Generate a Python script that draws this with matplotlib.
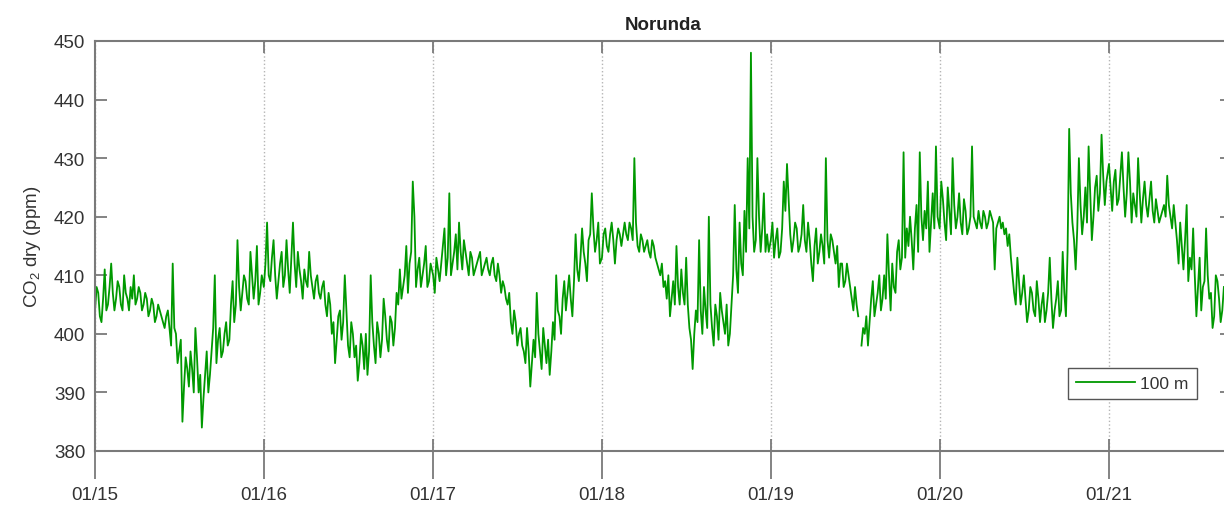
import numpy as np
import pandas as pd
import matplotlib
matplotlib.use("Agg")
import matplotlib.pyplot as plt
import matplotlib.dates as mdates

plt.rcParams['font.family'] = ['Liberation Sans', 'DejaVu Sans']
plt.rcParams['mathtext.fontset'] = 'custom'
plt.rcParams['mathtext.rm'] = 'Liberation Sans'
plt.rcParams['mathtext.it'] = 'Liberation Sans:italic'

nan = np.nan

# CO2 (ppm), one weekly list per year starting 1 Jan,
# plus the readings half a week later (mid_*)
co2_2015 = [404, 407, 402, 411, 405, 412, 404, 409, 405, 410, 406, 408, 410,
            406, 407, 405, 406, 404, 405, 403, 404, 402, 403, 401, 412, 400,
            397, 385, 396, 391, 394, 401, 390, 384, 393, 390, 397, 410, 399,
            396, 400, 398, 405, 402, 416, 404, 410, 406, 414, 406, 415, 407]
mid_2015 = [408, 403, 406, 404, 408, 407, 406, 408, 404, 407, 404, 406, 405,
            408, 404, 407, 403, 406, 402, 405, 403, 401, 404, 398, 401, 395,
            399, 391, 394, 397, 390, 396, 393, 389, 397, 393, 401, 395, 401,
            397, 402, 399, 409, 405, 408, 407, 409, 405, 410, 409, 405, 410]

co2_2016 = [408, 419, 409, 416, 406, 412, 408, 416, 407, 419, 408, 411, 406,
            409, 414, 408, 409, 407, 408, 405, 407, 400, 395, 403, 399, 410,
            398, 402, 396, 392, 400, 394, 393, 410, 398, 402, 396, 406, 399,
            403, 398, 407, 411, 408, 415, 412, 426, 408, 413, 410, 415, 409]
mid_2016 = [412, 410, 413, 410, 409, 414, 410, 411, 413, 412, 414, 409, 411,
            408, 410, 406, 410, 406, 409, 403, 405, 402, 399, 404, 402, 404,
            396, 400, 398, 395, 398, 400, 397, 402, 395, 400, 399, 403, 397,
            402, 401, 405, 406, 410, 407, 414, 420, 411, 408, 412, 408, 412]

co2_2017 = [410, 413, 409, 415, 410, 424, 412, 417, 419, 411, 414, 410, 413,
            411, 413, 410, 412, 411, 412, 410, 412, 407, 408, 405, 402, 404,
            398, 401, 397, 401, 391, 399, 407, 397, 401, 395, 393, 402, 410,
            403, 406, 404, 410, 403, 417, 409, 418, 412, 416, 424, 414, 419]
mid_2017 = [407, 411, 412, 418, 413, 410, 414, 411, 414, 416, 412, 414, 410,
            412, 414, 411, 413, 410, 413, 409, 410, 409, 406, 407, 400, 402,
            400, 398, 395, 397, 395, 396, 400, 394, 398, 399, 397, 399, 404,
            400, 409, 407, 406, 409, 411, 413, 414, 409, 417, 418, 416, 412]

co2_2018 = [413, 418, 414, 419, 412, 418, 415, 419, 416, 418, 430, 415, 417,
            414, 416, 413, 415, 412, 410, 408, 406, 403, 409, 415, 405, 407,
            413, 401, 394, 404, 416, 400, 404, 420, 401, 405, 399, 404, 400,
            398, 405, 422, 407, 412, 421, 430, 448, 414, 430, 414, 424, 417]
mid_2018 = [417, 415, 417, 416, 416, 417, 417, 417, 419, 416, 419, 414, 416,
            415, 414, 416, 413, 411, 412, 409, 410, 406, 405, 408, 411, 405,
            405, 399, 400, 402, 404, 408, 401, 405, 398, 403, 407, 402, 405,
            400, 410, 411, 419, 410, 414, 418, 420, 416, 420, 418, 414, 414]

co2_2019 = [416, 413, 418, 414, 426, 429, 417, 416, 418, 415, 422, 414, 416,
            409, 418, 414, 415, 430, 413, 416, 412, 408, 412, 409, 410, 406,
            408, 403, 398, 400, 398, 406, 403, 407, 404, 410, 417, 404, 408,
            414, 411, 431, 418, 420, 411, 422, 431, 416, 418, 414, 424, 432]
mid_2019 = [419, 416, 413, 418, 421, 423, 414, 419, 414, 417, 416, 419, 412,
            415, 412, 417, 412, 416, 417, 414, 415, 412, 408, 412, 408, 404,
            405, nan, 401, 403, 402, 409, 405, 410, 406, 406, 410, 412, 407,
            416, 413, 413, 415, 416, 418, 414, 420, 421, 426, 419, 418, 420]

co2_2020 = [418, 423, 416, 421, 430, 418, 424, 417, 421, 418, 432, 419, 421,
            418, 420, 419, 420, 411, 419, 418, 417, 415, 413, 407, 413, 405,
            410, 402, 408, 404, 409, 402, 407, 404, 413, 401, 406, 403, 414,
            403, 435, 419, 411, 430, 417, 425, 432, 416, 425, 421, 434, 422]
mid_2020 = [426, 419, 425, 417, 422, 420, 419, 423, 417, 420, 420, 418, 419,
            421, 418, 421, 419, 418, 420, 419, 418, 417, 410, 405, 409, 407,
            406, 404, 407, 403, 406, 405, 402, 407, 406, 404, 409, 404, 407,
            414, 424, 416, 418, 422, 420, 419, 424, 420, 427, 424, 427, 426]

co2_2021 = [429, 421, 428, 423, 431, 420, 431, 419, 422, 430, 419, 426, 420,
            426, 419, 421, 420, 422, 427, 420, 422, 416, 419, 411, 422, 413,
            418, 403, 413, 408, 418, 406, 401, 410, 406, 404]
mid_2021 = [425, 426, 422, 427, 425, 424, 426, 424, 420, 424, 423, 422, 423,
            421, 423, 419, 421, 420, 422, 418, 419, 412, 415, 416, 409, 411,
            410, 408, 404, 409, 410, 407, 403, 409, 402, 408]

years = [2015, 2016, 2017, 2018, 2019, 2020, 2021]
weekly = [co2_2015, co2_2016, co2_2017, co2_2018, co2_2019, co2_2020, co2_2021]
midweek = [mid_2015, mid_2016, mid_2017, mid_2018, mid_2019, mid_2020, mid_2021]

dates = []
values = []
for yr, w, m in zip(years, weekly, midweek):
    v = np.empty(2 * len(w))
    v[0::2] = w
    v[1::2] = m
    dates.extend(pd.date_range(f"{yr}-01-01", periods=len(v), freq="84h"))
    values.extend(v)
dates = pd.DatetimeIndex(dates)
values = np.array(values, dtype=float)

fig = plt.figure(figsize=(12.24, 5.06), dpi=100)
ax = fig.add_axes([95 / 1224, 54 / 506, 1137 / 1224, 410 / 506])

ax.plot(dates, values, color='#009900', lw=1.3, label='100 m')

ax.set_xlim(pd.Timestamp('2015-01-01'), pd.Timestamp('2021-09-24'))
ax.set_ylim(380, 450)
ax.set_yticks(np.arange(380, 451, 10))

ticks = [pd.Timestamp(f"{y}-01-01") for y in years]
ax.set_xticks(ticks)
ax.set_xticks(ticks, minor=True)
ax.xaxis.remove_overlapping_locs = False
ax.xaxis.set_major_formatter(mdates.DateFormatter('%m/%y'))

tick_col = '#333333'
spine_col = '#7a7a7a'
ax.tick_params(axis='x', which='major', direction='out', length=20, width=1.3,
               color=spine_col, labelsize=13.5, labelcolor=tick_col, pad=5)
ax.tick_params(axis='x', which='minor', direction='in', length=8.5, width=1.3,
               color=spine_col, top=True, bottom=True)
ax.tick_params(axis='y', which='major', direction='in', length=8.5, width=1.3,
               color=spine_col, labelsize=13.5, labelcolor=tick_col, pad=7,
               right=True)

for s in ax.spines.values():
    s.set_color(spine_col)
    s.set_linewidth(1.5)

ax.grid(axis='x', which='major', linestyle=':', color='#b5b5b5', lw=1.0)

ax.set_ylabel('CO$_2$ dry (ppm)', fontsize=13.5, color=tick_col, labelpad=8)
ax.set_title('Norunda', fontsize=13.5, fontweight='bold', color='#222222', pad=9)

leg = ax.legend(loc='lower left', bbox_to_anchor=(0.856, 0.127), borderaxespad=0,
                fontsize=12.5, handlelength=3.4, handletextpad=0.3,
                fancybox=False, framealpha=1, borderpad=0.45)
leg.get_frame().set_edgecolor('#555555')
leg.get_frame().set_linewidth(1.0)
for t in leg.get_texts():
    t.set_color(tick_col)

fig.savefig('out.png', dpi=100)
